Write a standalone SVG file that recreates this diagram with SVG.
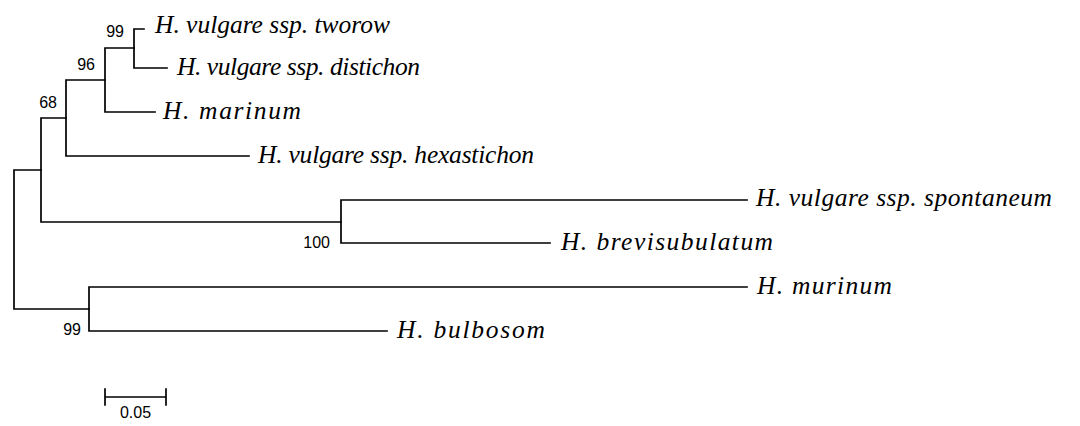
<svg xmlns="http://www.w3.org/2000/svg" width="1080" height="426" viewBox="0 0 1080 426">
<style>
.br{stroke:#000;stroke-width:1.7;fill:none;stroke-linecap:square}
.tx{font-family:"Liberation Serif",serif;font-style:italic;font-size:25.5px;fill:#000}
.bs{font-family:"Liberation Sans",Arial,sans-serif;font-size:16px;fill:#000}
</style>
<rect width="1080" height="426" fill="#fff"/>
<g id="connectors">
<path class="br" d="M134,29V68M134,29H144M134,68H167"/>
<path class="br" d="M105,48V112M105,48H134M105,112H155"/>
<path class="br" d="M66,80V156M66,80H105M66,156H249"/>
<path class="br" d="M41,118V222M41,118H66M41,222H341"/>
<path class="br" d="M341,200V243M341,200H747M341,243H550"/>
<path class="br" d="M14,170V309M14,170H41M14,309H89"/>
<path class="br" d="M89,287V331M89,287H747M89,331H387"/>
</g>
<g id="tworow"><text class="tx" x="155" y="33" textLength="235">H. vulgare ssp. tworow</text></g>
<g id="distichon"><text class="tx" x="177" y="75" textLength="243">H. vulgare ssp. distichon</text></g>
<g id="marinum"><text class="tx" x="163" y="119" textLength="138">H. marinum</text></g>
<g id="hexastichon"><text class="tx" x="258" y="163" textLength="276">H. vulgare ssp. hexastichon</text></g>
<g id="spontaneum"><text class="tx" x="756" y="206" textLength="296">H. vulgare ssp. spontaneum</text></g>
<g id="brevisubulatum"><text class="tx" x="561" y="250" textLength="212">H. brevisubulatum</text></g>
<g id="murinum"><text class="tx" x="757" y="294" textLength="135">H. murinum</text></g>
<g id="bulbosom"><text class="tx" x="397" y="338" textLength="148">H. bulbosom</text></g>
<g id="bootstrap">
<text class="bs" x="124" y="37" text-anchor="end">99</text>
<text class="bs" x="95" y="70" text-anchor="end">96</text>
<text class="bs" x="57" y="108" text-anchor="end">68</text>
<text class="bs" x="330" y="248" text-anchor="end">100</text>
<text class="bs" x="81" y="335" text-anchor="end">99</text>
</g>
<g id="scalebar">
<path class="br" d="M105,397H166M105,389V405M166,389V405" stroke-linecap="butt"/>
<text class="bs" x="135.5" y="418" text-anchor="middle">0.05</text>
</g>
</svg>
